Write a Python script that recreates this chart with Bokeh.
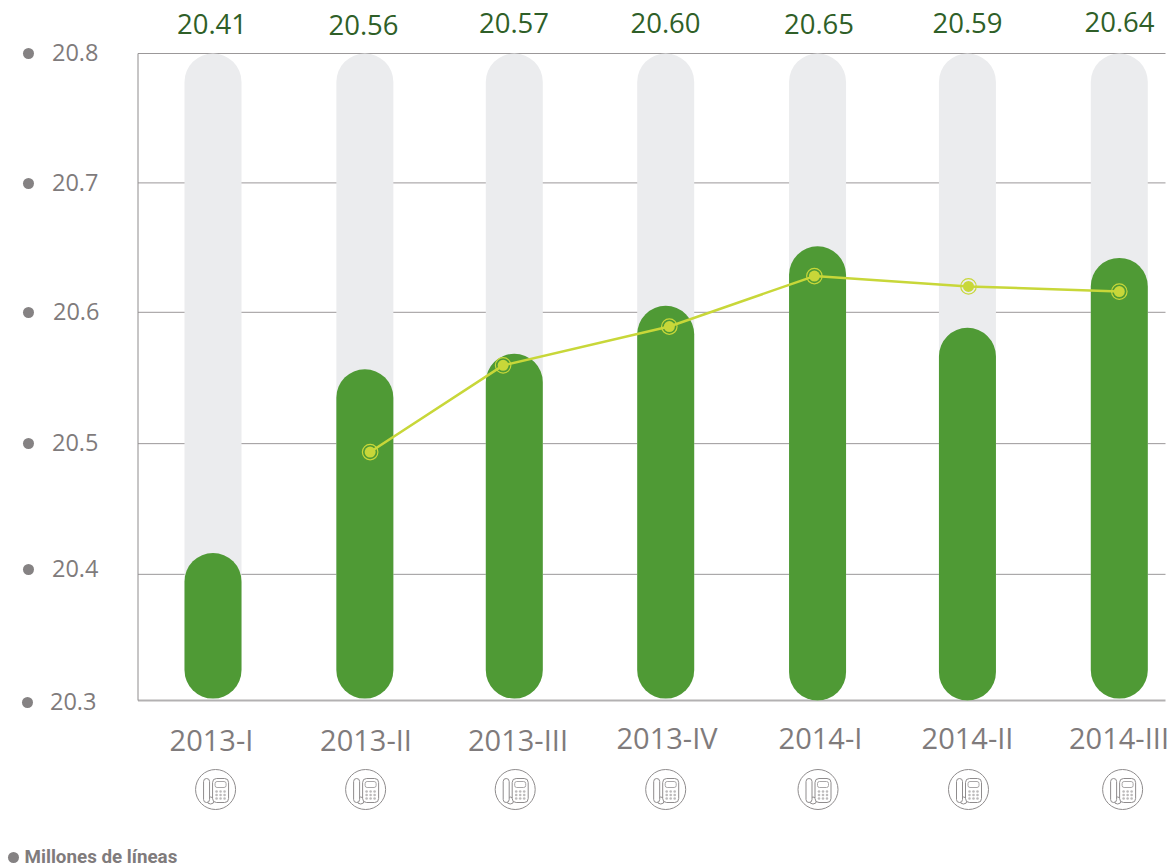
from bokeh.plotting import figure
from bokeh.models import Range1d
from bokeh.core.properties import value
from bokeh.embed import file_html
from bokeh.resources import INLINE

categories = ["2013-I", "2013-II", "2013-III", "2013-IV", "2014-I", "2014-II", "2014-III"]
labels = ["20.41", "20.56", "20.57", "20.60", "20.65", "20.59", "20.64"]
bar_values = [20.414, 20.556, 20.568, 20.605, 20.651, 20.588, 20.642]
bar_floor = [20.3015, 20.3015, 20.3015, 20.3015, 20.3, 20.3, 20.3015]
line_values = [20.492, 20.559, 20.589, 20.628, 20.620, 20.616]
tick_labels = ["20.8", "20.7", "20.6", "20.5", "20.4", "20.3"]
grid_levels = [20.8, 20.7, 20.6, 20.4985, 20.3975, 20.3]

# where each element sits in the drawing, in category units
bar_pos = [0.0, 1.005, 1.994, 2.996, 4.001, 4.993, 5.998]
line_pos = [1.04, 1.92, 3.02, 3.98, 5.0, 5.998]
phone_pos = [0.017, 1.01, 2.0, 2.996, 4.004, 5.0, 6.02]

W, H = 1174, 867
X0, DX = 212.5, 151.1
Y0, DY = 700.0, 1294.0
xr = Range1d(-X0 / DX, (W - X0) / DX)
yr = Range1d(20.3 - (H - Y0) / DY, 20.3 + Y0 / DY)

def px_x(px):
    return (px - X0) / DX

def px_y(py):
    return 20.3 + (Y0 - py) / DY

p = figure(width=W, height=H, x_range=xr, y_range=yr, x_axis_type=None, y_axis_type=None,
           output_backend="svg", toolbar_location=None, min_border=0, outline_line_color=None,
           background_fill_color="white", border_fill_color="white")
p.grid.visible = False

FONT = value("Open Sans")
GREY = "#7f7b7c"
LX0, LX1 = px_x(137.5), px_x(1165)

# grid lines and frame
p.segment(x0=[LX0] * 5, x1=[LX1] * 5, y0=grid_levels[:5], y1=grid_levels[:5],
          line_color="#9b9899", line_width=1)
p.segment(x0=[LX0], x1=[LX1], y0=[20.3], y1=[20.3], line_color="#b3b1b2", line_width=2)
p.segment(x0=[LX0], x1=[LX0], y0=[20.3], y1=[20.8], line_color="#8f8c8d", line_width=1)

# bars
bw = 57 / DX
p.vbar(x=bar_pos, top=[20.8] * 7, bottom=bar_floor, width=bw, fill_color="#ebecee",
       line_color=None, border_radius=29)
p.vbar(x=bar_pos, top=bar_values, bottom=bar_floor, width=bw, fill_color="#4f9a35",
       line_color=None, border_radius=29)

# line
LINE = "#c8d739"
p.line(line_pos, line_values, line_color=LINE, line_width=2.5)
p.scatter(line_pos, line_values, size=15.5, marker="circle", fill_color=None, line_color=LINE, line_width=1.2)
p.scatter(line_pos, line_values, size=11, marker="circle", fill_color=LINE, line_color=None)

# value labels
value_x = [px_x(v) for v in (211.5, 363, 513.5, 665, 818.5, 967, 1119)]
value_y = [px_y(v) for v in (23.5, 24.5, 22.5, 22.5, 23.5, 22.5, 21.5)]
p.text(value_x, value_y, text=labels, text_font=FONT, text_font_size="27.5px", text_color="#2f5f28",
       text_align="center", text_baseline="middle")

# y tick labels and dots
tick_y = [px_y(v) for v in (52, 182, 311, 442, 568, 701)]
tick_x = [px_x(v) for v in (51.5, 51.5, 52.5, 51.5, 51.5, 49.5)]
dot_y = [px_y(v) for v in (53, 183, 312, 443, 569, 702)]
dot_x = [px_x(v) for v in (28, 28, 28, 28, 28, 27)]
p.text(tick_x, tick_y, text=tick_labels, text_font=FONT, text_font_size="23.5px", text_color=GREY,
       text_align="left", text_baseline="middle")
p.scatter(dot_x, dot_y, size=11, marker="circle", fill_color="#858283", line_color=None)

# category labels
cat_x = [px_x(v) for v in (211, 365.5, 517.5, 666.5, 820, 967, 1118.5)]
cat_y = [px_y(v) for v in (739, 739, 739, 737, 737, 737, 737)]
p.text(cat_x, cat_y, text=categories, text_font=FONT, text_font_size="29px", text_color=GREY,
       text_align="center", text_baseline="middle")

# telephone icons
ICON = "#8f8c8d"
pc_x = phone_pos
pc_y = [px_y(789)] * 7
p.scatter(pc_x, pc_y, size=40, marker="circle", fill_color="white", line_color=ICON, line_width=1)
ux = 1 / DX
uy = 1 / DY
p.scatter([x - 5 * ux for x in pc_x], [y - 11 * uy for y in pc_y], size=7, marker="circle",
          fill_color="white", line_color=ICON, line_width=1)
p.rect([x - 9 * ux for x in pc_x], [y - 1 * uy for y in pc_y], width=6 * ux, height=24 * uy,
       fill_color="white", line_color=ICON, line_width=1, border_radius=3)
p.rect([x + 5 * ux for x in pc_x], [y - 1 * uy for y in pc_y], width=16 * ux, height=24 * uy,
       fill_color="white", line_color=ICON, line_width=1, border_radius=4)
p.rect([x + 5 * ux for x in pc_x], [y + 5 * uy for y in pc_y], width=11 * ux, height=6 * uy,
       fill_color="white", line_color="#a9a7a8", line_width=1, border_radius=2)
for i in range(3):
    for j in range(3):
        p.scatter([x + (1 + i * 4) * ux for x in pc_x], [y + (-2 - j * 3.5) * uy for y in pc_y],
                  size=2.6, marker="circle", fill_color="#bdbbbc", line_color=None)

# footnote
p.scatter([px_x(13)], [px_y(857)], size=11, marker="circle", fill_color="#858283", line_color=None)
p.text([px_x(24)], [px_y(856)], text=["Millones de líneas"], text_font=value("Roboto"),
       text_font_style="bold", text_font_size="18.8px", text_color=GREY, text_align="left",
       text_baseline="middle")

open("out.html", "w").write(file_html(p, INLINE))
